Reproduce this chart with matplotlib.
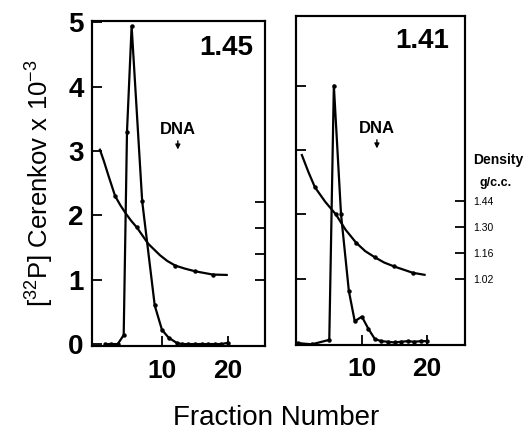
import matplotlib
matplotlib.use("Agg")
import matplotlib.pyplot as plt

plt.rcParams['font.family'] = ['Liberation Sans', 'DejaVu Sans']
plt.rcParams['mathtext.fontset'] = 'custom'
plt.rcParams['mathtext.rm'] = 'Liberation Sans'
plt.rcParams['mathtext.it'] = 'Liberation Sans'
plt.rcParams['mathtext.bf'] = 'Liberation Sans:bold'

# ---- data ----
panel_labels = ["1.45", "1.41"]

left_count_x = [1.4, 2.3, 3.3, 4.2, 4.7, 5.4, 7.0, 8.9, 10.0, 11.0, 12.2, 13, 14, 15, 16, 17, 18, 19, 20]
left_count_y = [0.0, 0.0, 0.0, 0.14, 3.3, 4.94, 2.22, 0.6, 0.22, 0.1, 0.02, 0.0, 0.0, 0.0, 0.0, 0.0, 0.0, 0.0, 0.02]

right_count_x = [0.2, 2.3, 5.0, 5.7, 6.8, 8.0, 8.9, 10.0, 11.0, 12.0, 13, 14, 15, 16, 17, 18, 19, 20]
right_count_y = [0.0, -0.02, 0.05, 4.0, 2.0, 0.81, 0.34, 0.41, 0.22, 0.06, 0.03, 0.02, 0.01, 0.02, 0.03, 0.02, 0.03, 0.03]

# density (g/c.c.)
left_dens_x = [0.6, 1.2, 1.9, 2.9, 3.7, 4.5, 5.3, 6.2, 7.9, 9.7, 10.8, 12.0, 13.5, 15.0, 17.7, 19.8]
left_dens_y = [1.727, 1.665, 1.585, 1.475, 1.425, 1.381, 1.342, 1.304, 1.216, 1.153, 1.122, 1.097, 1.080, 1.066, 1.048, 1.046]
left_dens_dots = [3, 7, 11, 13, 14]

right_dens_x = [0.8, 1.8, 2.8, 4.4, 6.0, 7.5, 9.1, 10.5, 12.0, 13.4, 14.9, 17.8, 19.6]
right_dens_y = [1.692, 1.600, 1.517, 1.437, 1.37, 1.286, 1.216, 1.170, 1.136, 1.108, 1.087, 1.052, 1.041]
right_dens_dots = [2, 4, 6, 8, 10, 11]

dna_x = [12.4, 12.3]
density_ticks = [1.02, 1.16, 1.30, 1.44]
count_ticks = [0, 1, 2, 3, 4, 5]
fraction_ticks = [10, 20]

# mapping count-axis units -> density (g/c.c.)
d0, v0, k = 1.02, 1.0, 0.35
def to_dens(v):
    return d0 + (v - v0) * k

fig = plt.figure(figsize=(5.31, 4.41), dpi=100)

ax_specs = [
    dict(rect=[92/531, 1-346/441, 173/531, 325/441], xlim=(-0.6, 25.6), ylim=(-0.03, 5.02)),
    dict(rect=[296/531, 1-345/441, 169/531, 329/441], xlim=(-0.1, 25.8), ylim=(-0.03, 5.08)),
]
counts = [(left_count_x, left_count_y), (right_count_x, right_count_y)]
dens = [(left_dens_x, left_dens_y, left_dens_dots), (right_dens_x, right_dens_y, right_dens_dots)]

lw = 1.6
for i, spec in enumerate(ax_specs):
    ax = fig.add_axes(spec['rect'])
    ax.set_xlim(*spec['xlim'])
    ax.set_ylim(*spec['ylim'])
    for s in ax.spines.values():
        s.set_linewidth(1.5)
    cx, cy = counts[i]
    ax.plot(cx, cy, color='black', lw=lw, marker='o', ms=2.2)
    ax.set_xticks(fraction_ticks)
    ax.set_yticks(count_ticks[1:5] if i == 1 else count_ticks)
    ax.tick_params(direction='in', length=7, width=1.3, pad=6)
    ax.tick_params(axis='x', labelsize=19, pad=9)
    ax.set_xticklabels([str(t) for t in fraction_ticks], fontweight='bold')
    if i == 0:
        ax.set_yticklabels([str(t) for t in count_ticks], fontsize=20, fontweight='bold')
    else:
        ax.set_yticklabels([])
    ax.text(dna_x[i], 3.33, "DNA", ha='center', va='center', fontsize=12, fontweight='bold')
    ax.annotate("", xy=(dna_x[i], 2.98), xytext=(dna_x[i], 3.2),
                arrowprops=dict(arrowstyle='-|>', color='black', lw=1.0, mutation_scale=7))
    lx = 19.8 if i == 0 else 19.3
    ly = 4.6 if i == 0 else 4.69
    ax.text(lx, ly, panel_labels[i], ha='center', va='center', fontsize=20, fontweight='bold')

    tw = ax.twinx()
    tw.set_ylim(to_dens(spec['ylim'][0]), to_dens(spec['ylim'][1]))
    tw.set_xlim(*spec['xlim'])
    dx, dy, dots = dens[i]
    tw.plot(dx, dy, color='black', lw=lw)
    tw.plot([dx[j] for j in dots], [dy[j] for j in dots], 'o', color='black', ms=2.2)
    tw.set_yticks(density_ticks)
    tw.tick_params(direction='in', length=7, width=1.3, pad=6, labelsize=7.5)
    if i == 0:
        tw.set_yticklabels([])
    else:
        tw.set_yticklabels([f"{t:.2f}" for t in density_ticks])
    for s in tw.spines.values():
        s.set_linewidth(1.5)

fig.text(498/531, 1-160/441, "Density", ha='center', va='center', fontsize=10, fontweight='bold')
fig.text(496/531, 1-183/441, "g/c.c.", ha='center', va='center', fontsize=9, fontweight='bold')
fig.text(276/531, 1-418/441, "Fraction Number", ha='center', va='center', fontsize=20)
fig.text(40/531, 1-183/441, r"[$^{\mathregular{32}}$P] Cerenkov x 10$^{\mathregular{-3}}$",
         rotation=90, ha='center', va='center', fontsize=18.5)

fig.savefig("out.png", dpi=100)
